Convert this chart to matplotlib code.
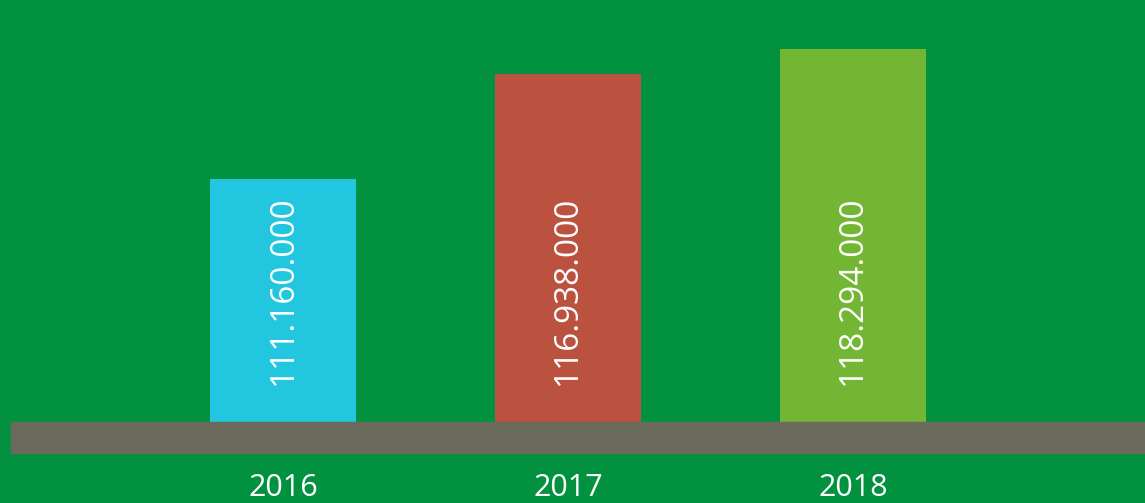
import matplotlib
matplotlib.use("Agg")
import matplotlib.pyplot as plt

years = ["2016", "2017", "2018"]
values = [111.160, 116.938, 118.294]  # millions
labels = ["111.160.000", "116.938.000", "118.294.000"]
bar_colors = ["#22c6df", "#bb5240", "#72b634"]

bg = "#02923f"
base = 97.91      # truncated baseline, bars don't start at zero
px = 1 / 18.31    # one pixel in data units

plt.rcParams["font.family"] = ["Open Sans", "DejaVu Sans"]

fig = plt.figure(figsize=(11.45, 5.03), dpi=100, facecolor=bg)
ax = fig.add_axes([0, 0, 1, 1])
ax.set_facecolor(bg)

x = list(range(len(years)))
heights = [v - base for v in values]
ax.bar(x, heights, bottom=base, width=0.512, color=bar_colors, zorder=2)

# gray ground strip under the bars
ax.axhspan(base - 31 * px, base, xmin=0.01, xmax=1.0, color="#6b6b5d", zorder=3)

for xi, lab in zip(x, labels):
    ax.text(xi, base + 132 * px, lab, rotation=90, ha="center", va="center",
            color="white", fontsize=24, zorder=4)

for xi, yr in zip(x, years):
    ax.text(xi, base - 66 * px, yr, ha="center", va="center",
            color="white", fontsize=22, zorder=4)

ax.set_xlim(-0.993, 3.025)
ax.set_ylim(base - 81 * px, base + 422 * px)
ax.axis("off")

fig.savefig("out.png", dpi=100, facecolor=bg)
